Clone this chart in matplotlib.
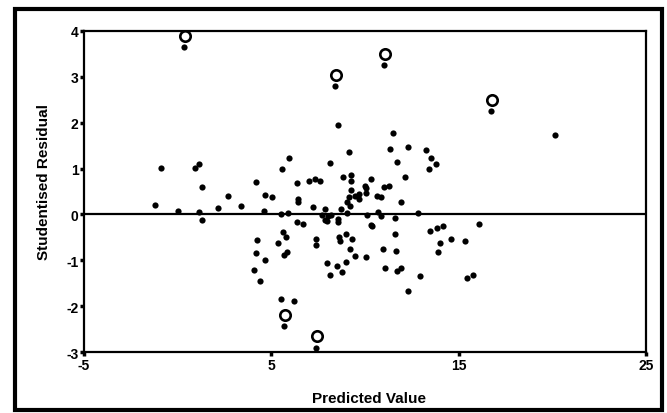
import matplotlib.pyplot as plt
import matplotlib.transforms as mtransforms
from matplotlib.patches import Rectangle

# predicted value vs studentised residual
predicted = [
    0.34, -0.89, 0.93, 1.16, 1.32, -1.19, 0.03, 1.16, 1.28, 2.15,
    2.69, 3.37, 4.17, 4.66, 5.05, 4.58, 5.57, 5.94, 6.36, 6.43,
    6.43, 7.01, 7.31, 7.60, 7.24, 8.11, 5.49, 5.86, 7.87, 7.71,
    7.87, 8.03, 8.15, 7.96, 6.36, 6.68, 5.61, 5.75, 5.36, 5.69,
    5.82, 4.21, 4.20, 4.66, 4.08, 4.38, 5.50, 6.21, 5.66, 7.39,
    7.35, 7.35, 8.40, 8.53, 9.16, 8.84, 9.24, 9.24, 9.26, 9.11,
    9.04, 9.20, 9.47, 9.67, 9.67, 9.99, 10.02, 10.06, 10.31, 10.64,
    10.87, 10.98, 11.27, 11.03, 11.46, 11.34, 11.71, 12.27, 12.10, 11.89,
    13.26, 13.49, 13.79, 13.40, 16.71, 20.15, 8.72, 9.04, 8.55, 8.56,
    10.11, 10.29, 10.36, 10.71, 10.86, 11.57, 12.80, 8.58, 8.68, 8.97,
    9.29, 9.20, 9.48, 10.06, 10.96, 11.59, 11.67, 7.96, 8.13, 8.52,
    8.76, 8.97, 11.07, 11.70, 11.93, 12.92, 12.30, 13.45, 13.83, 14.17,
    13.99, 13.90, 14.58, 15.34, 16.07, 15.45, 15.75,
]
residual = [
    3.65, 1.02, 1.02, 1.10, 0.59, 0.20, 0.08, 0.05, -0.12, 0.15,
    0.41, 0.19, 0.71, 0.42, 0.39, 0.08, 0.99, 1.23, 0.69, 0.34,
    0.28, 0.72, 0.77, 0.72, 0.17, 1.13, 0.02, 0.04, 0.12, -0.02,
    -0.11, -0.03, -0.01, -0.15, -0.17, -0.20, -0.38, -0.50, -0.62, -0.89,
    -0.82, -0.55, -0.84, -0.99, -1.21, -1.46, -1.84, -1.89, -2.44, -2.90,
    -0.54, -0.67, 2.79, 1.94, 1.36, 0.82, 0.85, 0.72, 0.54, 0.39,
    0.28, 0.19, 0.41, 0.44, 0.34, 0.62, 0.57, 0.47, 0.77, 0.41,
    0.38, 0.60, 0.63, 3.26, 1.78, 1.43, 1.14, 1.46, 0.82, 0.27,
    1.40, 1.24, 1.11, 0.98, 2.26, 1.74, 0.12, 0.04, -0.09, -0.16,
    -0.02, -0.22, -0.26, 0.06, -0.03, -0.07, 0.03, -0.50, -0.57, -0.42,
    -0.54, -0.76, -0.91, -0.92, -0.75, -0.42, -0.79, -1.05, -1.32, -1.13,
    -1.25, -1.04, -1.16, -1.23, -1.17, -1.34, -1.67, -0.35, -0.29, -0.26,
    -0.63, -0.82, -0.54, -0.58, -0.20, -1.39, -1.32,
]

x_ticks = [-5, 5, 15, 25]
y_ticks = [-3, -2, -1, 0, 1, 2, 3, 4]

plt.rcParams['font.family'] = ['Liberation Sans', 'DejaVu Sans']
plt.rcParams['font.weight'] = 'bold'
plt.rcParams['axes.unicode_minus'] = False

fig = plt.figure(figsize=(6.67, 4.14), dpi=100)
ax = fig.add_axes([0.126, 0.147, 0.843, 0.776])

ax.scatter(predicted, residual, s=20, color='black', linewidths=0, zorder=3)

# outliers (|residual| > 2) get an open circle just above the dot
big = [(x, y) for x, y in zip(predicted, residual) if abs(y) > 2]
shift = mtransforms.offset_copy(ax.transData, fig=fig, x=0.5, y=8, units='points')
ax.plot([b[0] for b in big], [b[1] for b in big], 'o', ms=7.5, mfc='white',
        mec='black', mew=1.9, transform=shift, zorder=4)

ax.axhline(0, color='black', lw=1.6, zorder=2)

ax.set_xlim(-5, 25)
ax.set_ylim(-3, 4)
ax.set_xticks(x_ticks)
ax.set_yticks(y_ticks)
ax.tick_params(direction='out', length=3, width=2.5, labelsize=10, pad=1)
for s in ax.spines.values():
    s.set_linewidth(1.6)

ax.set_xlabel('Predicted Value', fontsize=11, fontweight='bold')
ax.set_ylabel('Studentised Residual', fontsize=11, fontweight='bold')
ax.xaxis.set_label_coords(0.506, -0.12)
ax.yaxis.set_label_coords(-0.059, 0.534)

# thick outer frame around the chart
fig.patches.append(Rectangle((0.0225, 0.007), 0.97, 0.969, transform=fig.transFigure,
                             fill=False, lw=3, ec='black'))

fig.savefig('out.png', dpi=100)
